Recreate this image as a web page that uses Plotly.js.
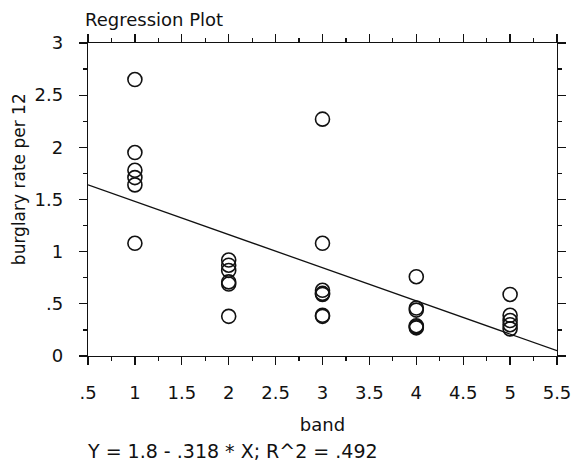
<!DOCTYPE html>
<html><head><meta charset="utf-8">
<script src="https://cdn.plot.ly/plotly-3.0.1.min.js"></script>
<style>body{margin:0;background:#fff}#c{width:573px;height:461px}</style>
</head><body><div id="c"></div>
<script>
const band = [1,1,1,1,1,1, 2,2,2,2,2,2, 3,3,3,3,3,3,3, 4,4,4,4,4,4, 5,5,5,5,5];
const rate = [2.65,1.95,1.78,1.71,1.64,1.08, 0.92,0.87,0.82,0.71,0.69,0.38, 2.27,1.08,0.63,0.60,0.59,0.39,0.38, 0.76,0.46,0.44,0.29,0.27,0.28, 0.59,0.39,0.34,0.30,0.26];
const intercept = 1.8;
const slope = -0.318;
const lineX = [0.5, 5.5];
const xTicks = [0.5,1,1.5,2,2.5,3,3.5,4,4.5,5,5.5];
const xTickText = ['.5','1','1.5','2','2.5','3','3.5','4','4.5','5','5.5'];
const yTicks = [0,0.5,1,1.5,2,2.5,3];
const yTickText = ['0','.5','1','1.5','2','2.5','3'];

const lineY = lineX.map(x => intercept + slope * x);
const font = 'DejaVu Sans, Verdana, sans-serif';

const traces = [
  {x: lineX, y: lineY, mode: 'lines', line: {color: '#111', width: 1.3}, hoverinfo: 'skip'},
  {x: band, y: rate, mode: 'markers', marker: {symbol: 'circle-open', size: 14, color: '#111', line: {width: 1.6, color: '#111'}}}
];
const axBase = {
  showgrid: false, zeroline: false, showline: true, linecolor: '#111', linewidth: 1.3,
  mirror: 'ticks', ticks: 'outside', ticklen: 8, tickwidth: 1.3, tickcolor: '#111',
  tickfont: {family: font, size: 18, color: '#111'},
  minor: {ticks: 'outside', ticklen: 4, tickwidth: 1.2, tickcolor: '#111', dtick: 0.25, showgrid: false}
};
const layout = {
  width: 573, height: 461,
  margin: {l: 88, r: 16, t: 43, b: 105},
  paper_bgcolor: '#fff', plot_bgcolor: '#fff',
  showlegend: false,
  font: {family: font, color: '#111'},
  xaxis: Object.assign({}, axBase, {
    range: [0.5, 5.5], tickmode: 'array', tickvals: xTicks, ticktext: xTickText,
    ticklabelstandoff: 12,
    title: {text: 'band', font: {family: font, size: 18, color: '#111'}, standoff: 16}
  }),
  yaxis: Object.assign({}, axBase, {
    range: [0, 3], tickmode: 'array', tickvals: yTicks, ticktext: yTickText,
    ticklabelstandoff: 12
  }),
  annotations: [
    {text: 'Regression Plot', xref: 'paper', yref: 'paper', x: 0, y: 1, xshift: -5, yshift: 24, xanchor: 'left', yanchor: 'middle', showarrow: false, font: {family: font, size: 18, color: '#111'}},
    {text: 'burglary rate per 12', xref: 'paper', yref: 'paper', x: 0, y: 0.565, xshift: -69, xanchor: 'center', yanchor: 'middle', textangle: -90, showarrow: false, font: {family: font, size: 17, color: '#111'}},
    {text: 'Y = 1.8 - .318 * X; R^2 = .492', xref: 'paper', yref: 'paper', x: 0, y: 0, xshift: -3, yshift: -95, xanchor: 'left', yanchor: 'middle', showarrow: false, font: {family: font, size: 19, color: '#111'}}
  ]
};
Plotly.newPlot('c', traces, layout, {displayModeBar: false, staticPlot: true});
</script></body></html>
